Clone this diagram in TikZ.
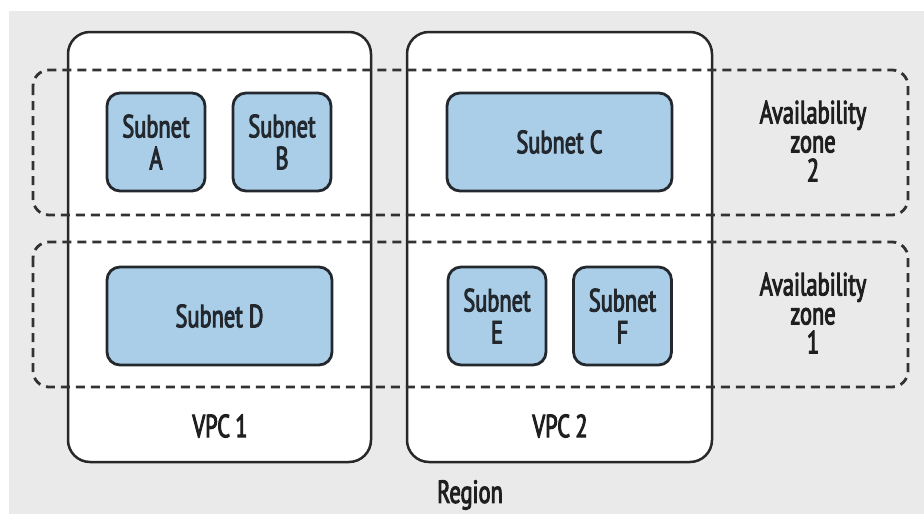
\documentclass[tikz,border=0pt]{standalone}
\usepackage{fontspec}
\setmainfont[FakeStretch=0.7,FakeBold=3]{PT Sans}
\definecolor{bggray}{RGB}{234,234,234}
\definecolor{subfill}{RGB}{170,206,231}
\definecolor{darkline}{RGB}{34,40,46}
\definecolor{vpcline}{RGB}{40,40,40}
\definecolor{zoneline}{RGB}{50,50,50}
\tikzset{
  subnet/.style={draw=darkline, fill=subfill, line width=2.8pt, rounded corners=13pt,
    align=center, font=\fontsize{32}{32}\selectfont, text=darkline, inner sep=0pt},
  vpcbox/.style={draw=vpcline, fill=white, line width=2.5pt, rounded corners=22pt},
  zonebox/.style={draw=zoneline, line width=2.8pt, dash pattern=on 9pt off 6pt, rounded corners=16pt},
  lbl/.style={align=center, font=\fontsize{32}{29}\selectfont, text=black!88, inner sep=0pt}
}
\begin{document}
\begin{tikzpicture}[x=1pt,y=-1pt]
\useasboundingbox (0,0) rectangle (924,514);
\fill[white] (0,0) rectangle (924,514);
\fill[bggray] (9,11) rectangle (924,514);
% VPCs
\draw[vpcbox] (68,32) rectangle (371,462);
\draw[vpcbox] (407,32) rectangle (712,462);
% Availability zones
\draw[zonebox] (33,70) rectangle (908,215);
\draw[zonebox] (33,242) rectangle (908,387);
% Subnets
\node[subnet, minimum width=98pt, minimum height=98pt] (A) at (156,142) {Subnet\\A};
\node[subnet, minimum width=98pt, minimum height=98pt] (B) at (282,142) {Subnet\\B};
\node[subnet, minimum width=225pt, minimum height=98pt] (C) at (559.5,142) {Subnet C};
\node[subnet, minimum width=225pt, minimum height=98pt] (D) at (219.5,316) {Subnet D};
\node[subnet, minimum width=98pt, minimum height=98pt] (E) at (497,316) {Subnet\\E};
\node[subnet, minimum width=98pt, minimum height=98pt] (F) at (622.5,316) {Subnet\\F};
% Labels
\node[lbl] (az2) at (813,141) {Availability\\zone\\2};
\node[lbl] (az1) at (813,313) {Availability\\zone\\1};
\node[lbl] (vpc1) at (220,426) {VPC\,1};
\node[lbl] (vpc2) at (560,426) {VPC\,2};
\node[lbl] (region) at (470,495) {Region};
\end{tikzpicture}
\end{document}
